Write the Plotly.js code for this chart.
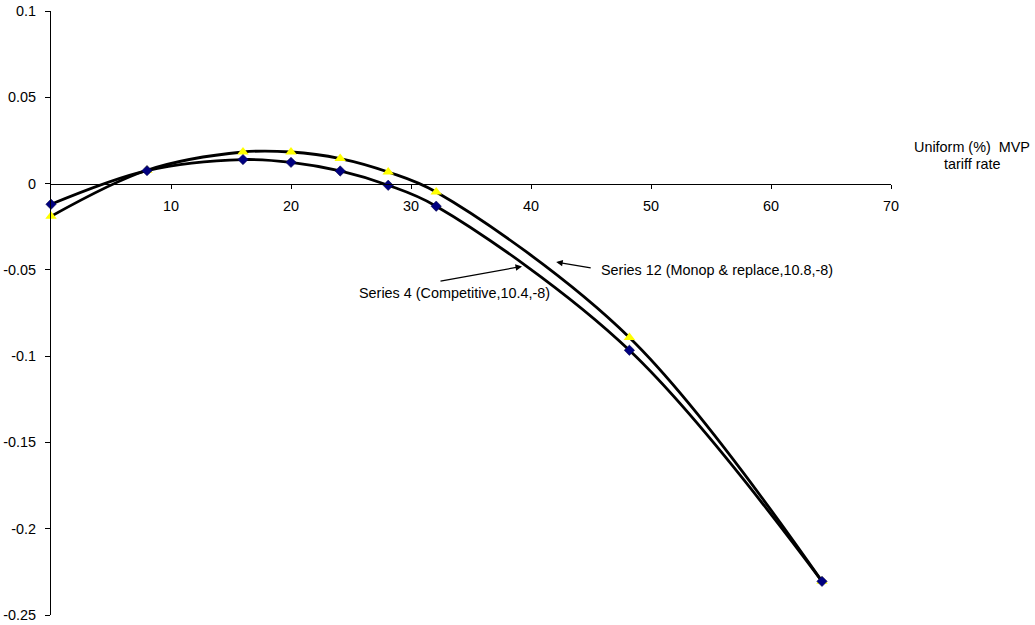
<!DOCTYPE html>
<html>
<head>
<meta charset="utf-8">
<script src="https://cdn.plot.ly/plotly-3.0.1.min.js"></script>
<style>
  html, body { margin: 0; padding: 0; background: #ffffff; }
  #chart { width: 1035px; height: 625px; }
</style>
</head>
<body>
<div id="chart"></div>
<script>
// Tariff rates (x) shared by both series
const tariffRates = [0, 8, 16, 20, 24.1, 28.1, 32.1, 48.2, 64.25];
// Series 4 (Competitive, 10.4, -8)
const series4Name = "Series 4 (Competitive,10.4,-8)";
const series4Values = [-0.012, 0.0075, 0.0139, 0.0123, 0.0073, -0.001, -0.0131, -0.0966, -0.2305];
// Series 12 (Monop & replace, 10.8, -8)
const series12Name = "Series 12 (Monop & replace,10.8,-8)";
const series12Values = [-0.019, 0.0077, 0.0183, 0.0183, 0.0145, 0.0067, -0.0049, -0.0892, -0.2305];
// Axis ticks
const xTickValues = [10, 20, 30, 40, 50, 60, 70];
const xTickLabels = ["10", "20", "30", "40", "50", "60", "70"];
const yTickValues = [0.1, 0.05, 0, -0.05, -0.1, -0.15, -0.2, -0.25];
const yTickLabels = ["0.1", "0.05", "0", "-0.05", "-0.1", "-0.15", "-0.2", "-0.25"];
const xRange = [0, 70];
const yRange = [-0.25, 0.1];
const axisTitleLine1 = "Uniform (%)\u00a0\u00a0MVP";
const axisTitleLine2 = "tariff rate";

const FONT = "Liberation Sans, Arial, sans-serif";
const FS = 14.4;

const traces = [
  {
    x: tariffRates, y: series12Values, name: series12Name,
    type: "scatter", mode: "lines+markers",
    line: { color: "#000000", width: 2.8, shape: "spline", smoothing: 1 },
    marker: { symbol: "triangle-up", color: "#ffff00", size: 10, line: { width: 0 } },
    cliponaxis: false
  },
  {
    x: tariffRates, y: series4Values, name: series4Name,
    type: "scatter", mode: "lines+markers",
    line: { color: "#000000", width: 2.8, shape: "spline", smoothing: 1 },
    marker: { symbol: "diamond", color: "#000080", size: 8, line: { width: 0.5, color: "#000040" } },
    cliponaxis: false
  }
];

const zeroFrac = (0 - yRange[0]) / (yRange[1] - yRange[0]);

function textNote(x, y, text) {
  return {
    xref: "x", yref: "y", x: x, y: y, text: text, showarrow: false,
    xanchor: "center", yanchor: "middle",
    font: { family: FONT, size: FS, color: "#000000" }
  };
}
function arrowNote(x, y, ax, ay) {
  return {
    xref: "x", yref: "y", x: x, y: y, text: "",
    axref: "pixel", ayref: "pixel", ax: ax, ay: ay,
    showarrow: true, arrowhead: 2, arrowsize: 1, arrowwidth: 1.3,
    arrowcolor: "#000000", standoff: 0, startstandoff: 0
  };
}

const layout = {
  width: 1035, height: 625,
  margin: { l: 51, r: 144, t: 11, b: 10, pad: 0 },
  paper_bgcolor: "#ffffff", plot_bgcolor: "#ffffff",
  showlegend: false,
  font: { family: FONT, size: FS, color: "#000000" },
  xaxis: {
    range: xRange, anchor: "free", position: zeroFrac,
    showline: true, linecolor: "#000000", linewidth: 1,
    showgrid: false, zeroline: false,
    ticks: "outside", ticklen: 4, tickwidth: 1, tickcolor: "#000000",
    tickvals: xTickValues, ticktext: xTickLabels,
    ticklabelstandoff: 5,
    tickfont: { family: FONT, size: FS, color: "#000000" },
    automargin: false, fixedrange: true
  },
  yaxis: {
    range: yRange,
    showline: true, linecolor: "#000000", linewidth: 1,
    showgrid: false, zeroline: false,
    ticks: "outside", ticklen: 5, tickwidth: 1, tickcolor: "#000000",
    tickvals: yTickValues, ticktext: yTickLabels,
    ticklabelstandoff: 6,
    tickfont: { family: FONT, size: FS, color: "#000000" },
    automargin: false, fixedrange: true
  },
  annotations: [
    // Series 12 label + arrow
    textNote(55.5, -0.050, series12Name),
    arrowNote(42.1, -0.0455, 36, 6),
    // Series 4 label + arrow
    textNote(33.6, -0.0635, series4Name),
    arrowNote(39.25, -0.048, -83, 15),
    // x-axis title at right end
    {
      xref: "paper", yref: "paper", x: 1.097, y: 0.775,
      xanchor: "center", yanchor: "middle",
      text: axisTitleLine1, showarrow: false,
      font: { family: FONT, size: FS, color: "#000000" }
    },
    {
      xref: "paper", yref: "paper", x: 1.097, y: 0.7475,
      xanchor: "center", yanchor: "middle",
      text: axisTitleLine2, showarrow: false,
      font: { family: FONT, size: FS, color: "#000000" }
    }
  ]
};

Plotly.newPlot("chart", traces, layout, { displayModeBar: false, staticPlot: true });
</script>
</body>
</html>
